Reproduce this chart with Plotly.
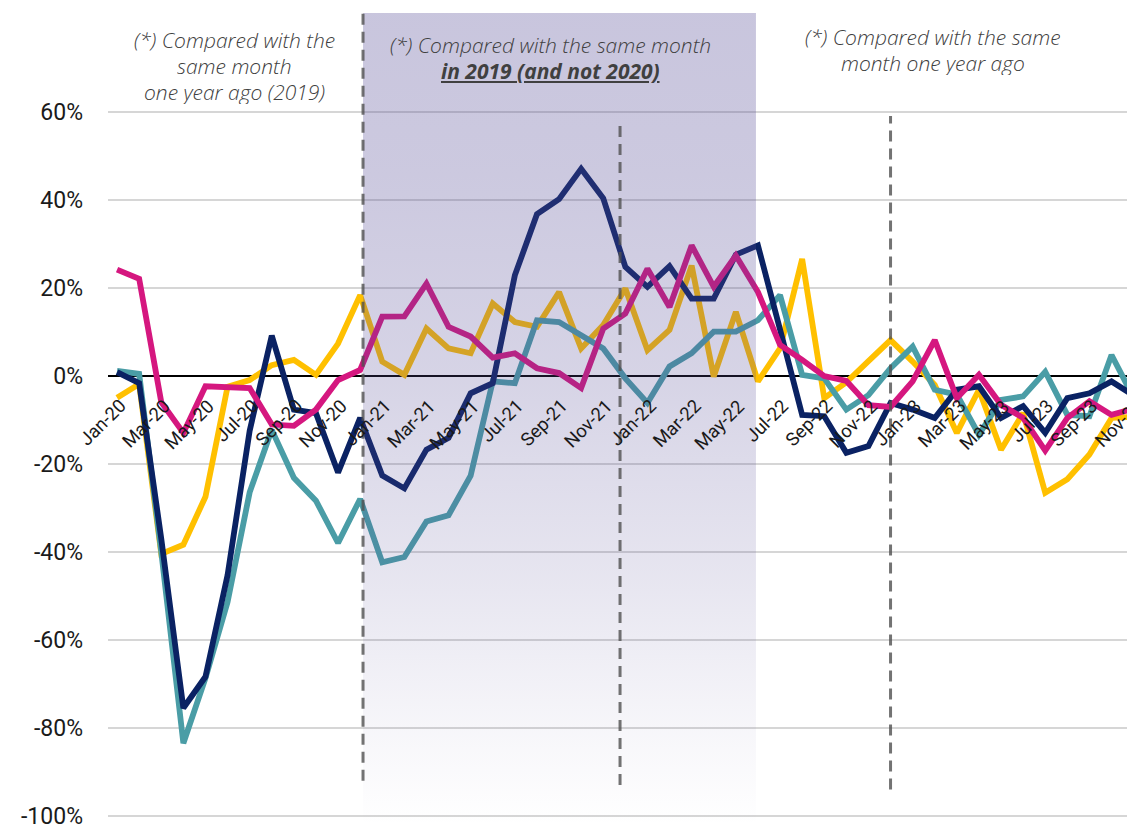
import plotly.graph_objects as go

# Monthly year-on-year change (%), Jan-20 .. Nov-23
months = [f"{m}-{y}" for y in ("20", "21", "22", "23")
          for m in ("Jan", "Feb", "Mar", "Apr", "May", "Jun",
                    "Jul", "Aug", "Sep", "Oct", "Nov", "Dec")][:47]

series_yellow = [-5.0, -1.9, -40.5, -38.4, -27.5, -2.5, -1.0, 2.4, 3.6, 0.2, 7.3, 18.3,
                 3.2, 0.2, 10.7, 6.2, 5.1, 16.4, 12.2, 11.1, 19.0, 6.2, 11.5, 19.8,
                 5.8, 10.4, 25.0, -0.2, 14.5, -1.3, 6.2, 26.5, -5.1, -1.5, 3.3, 8.1,
                 3.2, -2.1, -13.0, -3.2, -16.8, -8.5, -26.6, -23.5, -17.9, -9.6, -9.3]

series_teal = [1.1, 0.4, -40.0, -83.5, -68.7, -51.4, -26.5, -12.3, -23.2, -28.4, -38.0, -28.0,
               -42.4, -41.2, -33.1, -31.7, -22.7, -1.3, -1.7, 12.6, 12.2, 9.2, 6.2, -0.6,
               -6.2, 2.1, 5.1, 10.0, 10.0, 12.6, 18.3, 0.2, -0.6, -7.7, -4.4, 1.7,
               6.6, -3.2, -4.3, -13.4, -5.5, -4.7, 0.9, -8.9, -9.2, 4.7, -5.0]

series_navy = [0.8, -1.7, -37.0, -75.5, -68.4, -45.3, -12.5, 9.1, -7.7, -8.5, -22.0, -9.6,
               -22.7, -25.6, -16.8, -14.1, -4.0, -1.7, 22.8, 36.7, 40.1, 47.0, 40.3, 24.7,
               20.2, 24.9, 17.5, 17.5, 27.5, 29.6, 10.5, -8.9, -9.2, -17.5, -16.0, -6.2,
               -7.7, -9.6, -3.2, -2.4, -9.6, -6.9, -13.0, -5.1, -4.0, -1.3, -4.5]

series_magenta = [24.1, 22.0, -6.0, -13.0, -2.4, -2.6, -2.8, -11.1, -11.4, -7.7, -1.0, 1.3,
                  13.4, 13.5, 20.9, 11.1, 8.9, 4.1, 5.1, 1.7, 0.6, -2.8, 10.7, 14.1,
                  24.3, 15.6, 29.6, 20.2, 27.3, 19.0, 7.0, 3.6, -0.1, -1.2, -6.7, -7.1,
                  -1.3, 8.1, -5.1, 0.2, -6.6, -9.6, -17.0, -9.6, -5.8, -8.9, -7.5]

y_ticks = [-100, -80, -60, -40, -20, 0, 20, 40, 60]
y_tick_text = [f"{v}%" for v in y_ticks]

# Comparison base changes: period compared with 2019 (month index positions)
base_2019_start = 11.13
base_2019_end = 28.91
divider_positions = [11.13, 22.76, 35.0]

x = list(range(len(months)))
X_MIN, X_MAX = -0.41, 45.7
Y_MIN, Y_MAX = -102.3, 82.4

fig = go.Figure()

lines = [
    (series_yellow, "#FFC000"),
    (series_teal, "#4A9DA6"),
    (series_navy, "#0A2263"),
    (series_magenta, "#D5177F"),
]
for values, color in lines:
    fig.add_trace(go.Scatter(
        x=x, y=values, mode="lines",
        line=dict(color=color, width=5.8),
        hoverinfo="skip", showlegend=False,
    ))

# Translucent band over the 2019-based period, fading downwards
fig.add_trace(go.Scatter(
    x=[base_2019_start, base_2019_end, base_2019_end, base_2019_start, base_2019_start],
    y=[Y_MIN, Y_MIN, Y_MAX, Y_MAX, Y_MIN],
    mode="none", fill="toself",
    fillgradient=dict(
        type="vertical",
        colorscale=[
            [0.0, "rgba(85,75,150,0.0)"],
            [0.12, "rgba(85,75,150,0.05)"],
            [0.3, "rgba(85,75,150,0.14)"],
            [0.55, "rgba(85,75,150,0.24)"],
            [0.8, "rgba(85,75,150,0.30)"],
            [1.0, "rgba(85,75,150,0.32)"],
        ],
    ),
    hoverinfo="skip", showlegend=False,
))

divider_spans = [(83, -92), (58, -93), (59, -94)]
for pos, (top, bottom) in zip(divider_positions, divider_spans):
    fig.add_shape(
        type="line", xref="x", yref="y",
        x0=pos, x1=pos, y0=bottom, y1=top,
        line=dict(color="rgba(80,80,80,0.8)", width=3, dash="11px,7px"),
        layer="above",
    )

# Notes above each period, one annotation per text line
note_font = dict(family="Open Sans", size=21, color="#404040", style="italic", weight=300)
notes = [
    (5.3, 76.3, "(*) Compared with the"),
    (5.3, 70.4, "same month"),
    (5.3, 64.5, "one year ago (2019)"),
    (19.6, 75.1, "(*) Compared with the same month"),
    (19.6, 69.2, "<b><u>in 2019 (and not 2020)</u></b>"),
    (36.9, 77.0, "(*) Compared with the same"),
    (36.9, 71.1, "month one year ago"),
]
for nx, ny, text in notes:
    fig.add_annotation(
        x=nx, y=ny, xref="x", yref="y", text=text, showarrow=False,
        font=note_font, align="center", xanchor="center", yanchor="middle",
        height=24, valign="middle",
    )

# Month labels hanging below the zero line (every second month, Jan-20 .. Nov-23)
zero_frac = (0 - Y_MIN) / (Y_MAX - Y_MIN)
for i in x[::2]:
    fig.add_annotation(
        x=(i - X_MIN) / (X_MAX - X_MIN), y=zero_frac,
        xref="paper", yref="paper", text=months[i], showarrow=False,
        textangle=-45, xanchor="right", yanchor="top",
        xshift=16, yshift=-17,
        font=dict(family="Roboto", size=18.5, color="#1a1a1a"),
    )

fig.update_layout(
    width=1127, height=830,
    margin=dict(l=108, r=0, t=13, b=0),
    paper_bgcolor="white", plot_bgcolor="white",
    font=dict(family="Roboto", color="#1a1a1a"),
    xaxis=dict(
        range=[X_MIN, X_MAX],
        showticklabels=False,
        showgrid=False, zeroline=False, showline=False, ticks="",
    ),
    yaxis=dict(
        range=[Y_MIN, Y_MAX],
        tickvals=y_ticks, ticktext=y_tick_text,
        tickfont=dict(size=23, color="#1a1a1a"),
        showgrid=True, gridcolor="#d6d6d6", gridwidth=1.5,
        zeroline=True, zerolinecolor="#000000", zerolinewidth=1.8,
        showline=False, ticks="", ticklabelstandoff=24,
        ticklabeloverflow="allow",
    ),
)

fig.write_html("out.html")
